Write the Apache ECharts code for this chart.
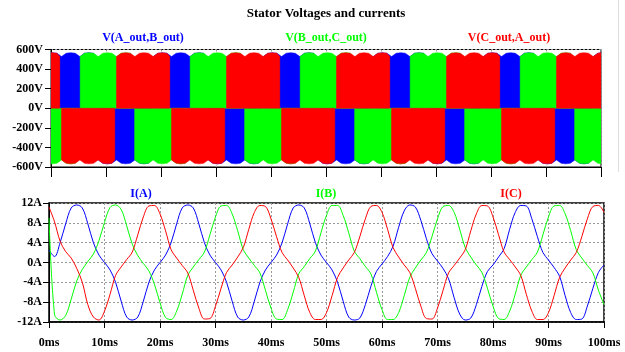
<!DOCTYPE html>
<html>
<head>
<meta charset="utf-8">
<script src="https://cdn.jsdelivr.net/npm/echarts@6/dist/echarts.min.js"></script>
<style>
  html, body { margin: 0; padding: 0; background: #fff; }
  #chart { width: 625px; height: 352px; }
</style>
</head>
<body>
<div id="chart"></div>
<script>
// currents sampled every 1 ms, 0..100 ms (A)
const currentA = [
  2.5, 1.2, 4.0, 7.8, 11.0, 11.6, 11.0, 7.8, 4.0, 1.5,
  0, -1.5, -4.0, -7.8, -11.0, -11.6, -11.0, -7.8, -4.0, -1.5,
  0, 1.5, 4.0, 7.8, 11.0, 11.6, 11.0, 7.8, 4.0, 1.5,
  0, -1.5, -4.0, -7.8, -11.0, -11.6, -11.0, -7.8, -4.0, -1.5,
  0, 1.5, 4.0, 7.8, 11.0, 11.6, 11.0, 7.8, 4.0, 1.5,
  0, -1.5, -4.0, -7.8, -11.0, -11.6, -11.2, -8.5, -4.8, -1.8,
  -0.3, 1.2, 3.3, 7.1, 10.4, 11.6, 11.2, 8.5, 4.8, 1.8,
  0.3, -1.2, -3.3, -7.1, -10.4, -11.6, -11.2, -8.5, -4.8, -1.8,
  -0.5, 1.1, 2.8, 6.7, 10.1, 11.5, 11.4, 8.8, 5.2, 2.0,
  0.5, -1.0, -2.8, -6.7, -10.1, -11.5, -11.4, -8.8, -5.2, -2.0,
  -0.5
]
const currentB = [
  9.0, -10.5, -11.6, -10.7, -7.4, -3.7, -1.4, 0.2, 1.7, 4.4,
  8.1, 11.1, 11.6, 10.7, 7.4, 3.7, 1.4, -0.2, -1.7, -4.4,
  -8.1, -11.1, -11.5, -9.8, -6.4, -2.6, -0.9, 0.6, 2.1, 5.6,
  9.2, 11.4, 11.5, 9.8, 6.4, 2.6, 0.9, -0.6, -2.1, -5.6,
  -9.2, -11.4, -11.5, -9.5, -6.0, -2.3, -0.8, 0.8, 2.3, 6.0,
  9.5, 11.5, 11.5, 9.5, 6.0, 2.3, 0.8, -0.8, -2.3, -6.0,
  -9.5, -11.5, -11.5, -10.1, -6.7, -3.0, -1.1, 0.5, 2.0, 5.2,
  8.8, 11.3, 11.5, 10.1, 6.7, 3.0, 1.1, -0.5, -2.0, -5.2,
  -8.8, -11.3, -11.5, -9.8, -6.4, -2.6, -0.9, 0.6, 2.1, 5.6,
  9.2, 11.4, 11.5, 9.8, 6.4, 2.6, 0.9, -0.6, -2.1, -5.6,
  -8.5
]
const currentC = [
  11.2, 8.2, 4.3, 2.2, 0.9, -1.2, -4.0, -8.5, -11.0, -11.6,
  -9.8, -6.4, -2.6, -0.9, 0.6, 2.1, 5.6, 9.2, 11.4, 11.5,
  9.8, 6.4, 2.6, 0.9, -0.6, -2.1, -5.6, -9.2, -11.4, -11.3,
  -8.8, -5.2, -2.0, -0.5, 1.1, 3.0, 6.7, 10.1, 11.5, 11.3,
  8.8, 5.2, 2.0, 0.5, -1.1, -3.0, -6.7, -10.1, -11.5, -11.5,
  -10.1, -6.7, -3.0, -1.1, 0.5, 2.0, 5.2, 8.8, 11.3, 11.5,
  10.1, 6.7, 3.0, 1.1, -0.5, -2.0, -5.2, -8.8, -11.3, -11.4,
  -9.2, -5.6, -2.1, -0.6, 0.9, 2.6, 6.4, 9.8, 11.5, 11.4,
  9.2, 5.6, 2.1, 0.6, -0.9, -2.6, -6.4, -9.8, -11.5, -11.5,
  -10.1, -6.7, -3.0, -1.1, 0.5, 2.0, 5.2, 8.8, 11.3, 11.5,
  10.1
]

// dc link envelope of the pwm voltages (V), one value every 100/120 ms from 0.25 ms
const envStart = 0.25
const envStep = 100 / 120
const vdcEnvelope = [
  568, 562, 528, 562, 568, 562, 528, 562, 568, 562, 528, 562,
  568, 562, 528, 562, 568, 562, 528, 562, 568, 562, 528, 562,
  568, 562, 528, 562, 568, 562, 528, 562, 568, 562, 528, 562,
  568, 562, 528, 562, 568, 562, 528, 562, 568, 562, 528, 562,
  568, 562, 528, 562, 568, 562, 528, 562, 568, 562, 528, 562,
  568, 562, 528, 562, 568, 562, 528, 562, 568, 562, 528, 562,
  568, 562, 528, 562, 568, 562, 528, 562, 568, 562, 528, 562,
  568, 562, 528, 562, 568, 562, 528, 562, 568, 562, 528, 562,
  568, 562, 528, 562, 568, 562, 528, 562, 568, 562, 528, 562,
  568, 562, 528, 562, 568, 562, 528, 562, 568, 562, 528, 562,
  568
]

// half cycles of each line voltage: [start ms, end ms, polarity]
const halfCyclesAB = [
  [0, 8.3, 1], [8.5, 18.3, -1], [18.6, 28.3, 1], [28.5, 38.3, -1], [38.6, 48.3, 1],
  [48.5, 58.3, -1], [58.6, 68.3, 1], [68.5, 78.3, -1], [78.6, 88.3, 1], [88.5, 98.3, -1],
  [98.6, 100, 1]
]
const halfCyclesBC = [
  [0, 5.0, -1], [5.3, 15.0, 1], [15.2, 25.0, -1], [25.3, 35.0, 1], [35.2, 45.0, -1],
  [45.3, 55.0, 1], [55.2, 65.0, -1], [65.3, 75.0, 1], [75.2, 85.0, -1], [85.3, 95.0, 1],
  [95.2, 100, -1]
]
const halfCyclesCA = [
  [0, 1.6, 1], [1.9, 11.6, -1], [11.9, 21.6, 1], [21.9, 31.6, -1], [31.9, 41.6, 1],
  [41.9, 51.6, -1], [51.9, 61.6, 1], [61.9, 71.6, -1], [71.9, 81.6, 1], [81.9, 91.6, -1],
  [91.9, 100, 1]
]

const BLUE = '#0000ff'
const GREEN = '#00ff00'
const RED = '#ff0000'
const FONT = '"Liberation Serif", "Times New Roman", serif'

function envAt(t) {
  let i = Math.round((t - envStart) / envStep)
  i = Math.max(0, Math.min(vdcEnvelope.length - 1, i))
  return vdcEnvelope[i]
}

// one filled block per half cycle, following the dc link envelope
function pwmSeries(name, halfCycles, color) {
  return {
    name: name,
    type: 'custom',
    xAxisIndex: 0,
    yAxisIndex: 0,
    data: halfCycles,
    encode: { x: [0, 1], y: 2 },
    clip: true,
    renderItem: (params, api) => {
      const s = api.value(0)
      const e = api.value(1)
      const sign = api.value(2)
      const pts = [api.coord([s, 0]), api.coord([s, sign * envAt(s)])]
      vdcEnvelope.forEach((v, i) => {
        const t = envStart + i * envStep
        if (t > s && t < e) pts.push(api.coord([t, sign * v]))
      })
      pts.push(api.coord([e, sign * envAt(e)]))
      pts.push(api.coord([e, 0]))
      return {
        type: 'polygon',
        shape: { points: pts },
        style: { fill: color, stroke: color, lineWidth: 0.5 }
      }
    }
  }
}

function currentSeries(name, values, color) {
  return {
    name: name,
    type: 'line',
    xAxisIndex: 1,
    yAxisIndex: 1,
    data: values.map((v, i) => [i, v]),
    symbol: 'none',
    smooth: 0.35,
    lineStyle: { color: color, width: 1 }
  }
}

const axisText = { color: '#000', fontFamily: FONT, fontWeight: 'bold', fontSize: 12 }
const gridDash = { show: true, lineStyle: { color: '#999', width: 1, type: [2, 2] } }

const chart = echarts.init(document.getElementById('chart'), null, { renderer: 'canvas' })
chart.setOption({
  animation: false,
  backgroundColor: '#fff',
  grid: [
    { left: 51, right: 24, top: 49.5, height: 117.5, show: true, borderColor: '#000', borderWidth: 1 },
    { left: 49, right: 21, top: 203, height: 119, show: true, borderColor: '#000', borderWidth: 1.5 }
  ],
  xAxis: [
    {
      type: 'value', gridIndex: 0, min: 0, max: 100, interval: 10,
      axisLine: { onZero: false, lineStyle: { color: '#000' } },
      axisTick: { show: true, length: 10, lineStyle: { color: '#000' } },
      axisLabel: { show: false },
      splitLine: gridDash
    },
    {
      type: 'value', gridIndex: 1, min: 0, max: 100, interval: 10,
      axisLine: { onZero: false, lineStyle: { color: '#000', width: 1.5 } },
      axisTick: { show: true, length: 6, lineStyle: { color: '#000' } },
      axisLabel: Object.assign({ formatter: '{value}ms', margin: 15 }, axisText),
      splitLine: gridDash
    }
  ],
  yAxis: [
    {
      type: 'value', gridIndex: 0, min: -600, max: 600, interval: 200,
      axisLine: { show: true, onZero: false, lineStyle: { color: '#000' } },
      axisTick: { show: true, length: 6, lineStyle: { color: '#000' } },
      axisLabel: Object.assign({ formatter: '{value}V', margin: 8 }, axisText),
      splitLine: gridDash
    },
    {
      type: 'value', gridIndex: 1, min: -12, max: 12, interval: 4,
      axisLine: { show: true, onZero: false, lineStyle: { color: '#000' } },
      axisTick: { show: true, length: 6, lineStyle: { color: '#000' } },
      axisLabel: Object.assign({ formatter: '{value}A', margin: 7 }, axisText),
      splitLine: gridDash
    }
  ],
  series: [
    pwmSeries('V(A_out,B_out)', halfCyclesAB, BLUE),
    pwmSeries('V(B_out,C_out)', halfCyclesBC, GREEN),
    pwmSeries('V(C_out,A_out)', halfCyclesCA, RED),
    currentSeries('I(A)', currentA, BLUE),
    currentSeries('I(B)', currentB, GREEN),
    currentSeries('I(C)', currentC, RED)
  ],
  graphic: [
    { type: 'text', x: 326, y: 14, style: { text: 'Stator Voltages and currents', fill: '#000', font: 'bold 13px ' + FONT, align: 'center', verticalAlign: 'middle' } },
    { type: 'text', x: 143, y: 38, style: { text: 'V(A_out,B_out)', fill: BLUE, font: 'bold 12px ' + FONT, align: 'center', verticalAlign: 'middle' } },
    { type: 'text', x: 326, y: 38, style: { text: 'V(B_out,C_out)', fill: GREEN, font: 'bold 12px ' + FONT, align: 'center', verticalAlign: 'middle' } },
    { type: 'text', x: 509, y: 38, style: { text: 'V(C_out,A_out)', fill: RED, font: 'bold 12px ' + FONT, align: 'center', verticalAlign: 'middle' } },
    { type: 'text', x: 141, y: 194, style: { text: 'I(A)', fill: BLUE, font: 'bold 12px ' + FONT, align: 'center', verticalAlign: 'middle' } },
    { type: 'text', x: 326, y: 194, style: { text: 'I(B)', fill: GREEN, font: 'bold 12px ' + FONT, align: 'center', verticalAlign: 'middle' } },
    { type: 'text', x: 511, y: 194, style: { text: 'I(C)', fill: RED, font: 'bold 12px ' + FONT, align: 'center', verticalAlign: 'middle' } },
    { type: 'line', shape: { x1: 618.5, y1: 0, x2: 618.5, y2: 172 }, style: { stroke: '#ddd', lineWidth: 1 } }
  ]
})
</script>
</body>
</html>
